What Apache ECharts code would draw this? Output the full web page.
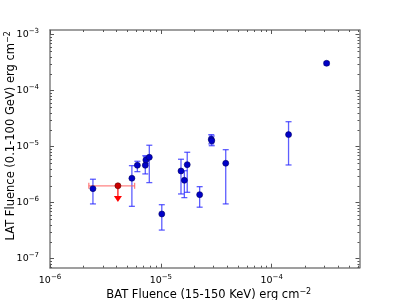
<!DOCTYPE html>
<html>
<head>
<meta charset="utf-8">
<script src="https://cdn.jsdelivr.net/npm/echarts@6/dist/echarts.min.js"></script>
<style>html,body{margin:0;padding:0;background:#fff}#c{width:400px;height:300px}</style>
</head>
<body>
<div id="c"></div>
<script>
// ---- data ----
const batFluence = [2.44e-6, 5.48e-6, 6.14e-6, 7.24e-6, 7.33e-6, 7.87e-6, 1.02e-5, 1.52e-5, 1.63e-5, 1.73e-5, 2.24e-5, 2.85e-5, 2.88e-5, 3.85e-5, 1.42e-4, 3.13e-4];
const latFluence = [1.78e-6, 2.73e-6, 4.65e-6, 4.65e-6, 5.78e-6, 6.47e-6, 6.28e-7, 3.68e-6, 2.51e-6, 4.77e-6, 1.39e-6, 1.36e-5, 1.27e-5, 5.05e-6, 1.64e-5, 3.08e-4];
const latErrLow  = [9.5e-7, 8.6e-7, 3.58e-6, 3.26e-6, 5.0e-6, 2.28e-6, 3.24e-7, 1.43e-6, 1.23e-6, 1.53e-6, 8.3e-7, 1.12e-5, 1.04e-5, 9.5e-7, 4.71e-6, 2.88e-4];
const latErrHigh = [2.62e-6, 4.58e-6, 5.48e-6, 6.9e-6, 6.6e-6, 1.06e-5, 9.2e-7, 5.96e-6, 3.72e-6, 7.94e-6, 1.93e-6, 1.64e-5, 1.55e-5, 8.83e-6, 2.79e-5, 3.25e-4];
// upper limit point
const ulBat = [4.1e-6];
const ulLat = [2.0e-6];
const ulBatLow = [2.24e-6];
const ulBatHigh = [5.8e-6];
const ulArrowTip = [1.03e-6];
// ticks
const xMajorTicks = [1e-6, 1e-5, 1e-4];
const yMajorTicks = [1e-7, 1e-6, 1e-5, 1e-4, 1e-3];
const xMin = 1e-6, xMax = 6.2e-4, yMin = 6.9e-8, yMax = 1.21e-3;

function minors(lo, hi) {
  const out = [];
  for (let e = -8; e <= -3; e++) {
    for (let m = 2; m <= 9; m++) {
      const v = m * Math.pow(10, e);
      if (v > lo && v < hi) out.push(v);
    }
  }
  return out;
}
const xMinorTicks = minors(xMin, xMax);
const yMinorTicks = minors(yMin, yMax);

const FONT = 'DejaVu Sans';
const axisColor = '#808080';
const richLbl = {
  b: {fontFamily: FONT, fontSize: 9.5, color: '#000'},
  s: {fontFamily: FONT, fontSize: 7, color: '#000', padding: [0, 0, 6, 0]}
};
function powLabel(v) {
  const e = Math.round(Math.log10(v));
  return '{b|10}{s|\u2212' + Math.abs(e) + '}';
}

function axisDef(pos, major, ticks, min, max) {
  return {
    type: 'log', logBase: 10, min: min, max: max, position: pos,
    splitLine: {show: false},
    minorTick: {show: false},
    axisLine: {show: major, lineStyle: {color: axisColor, width: 1.5}},
    axisTick: {show: true, inside: true, length: major ? 4 : 2, customValues: ticks,
               lineStyle: {color: '#555', width: 1}},
    axisLabel: {show: false}
  };
}

const xAxes = [
  axisDef('bottom', true, xMajorTicks, xMin, xMax),
  axisDef('bottom', false, xMinorTicks, xMin, xMax),
  axisDef('top', true, xMajorTicks, xMin, xMax),
  axisDef('top', false, xMinorTicks, xMin, xMax)
];
xAxes[0].axisLabel = {show: true, customValues: xMajorTicks, formatter: powLabel, rich: richLbl, margin: 6};
xAxes[0].name = 'BAT Fluence (15-150 KeV) erg cm{s|\u22122}';
xAxes[0].nameLocation = 'middle';
xAxes[0].nameGap = 20;
xAxes[0].nameMoveOverlap = false;
xAxes[0].nameTextStyle = {fontFamily: FONT, fontSize: 11.5, color: '#000', padding: [0, 0, 0, 8],
  rich: {s: {fontFamily: FONT, fontSize: 8, color: '#000', padding: [0, 0, 7, 0]}}};

const yAxes = [
  axisDef('left', true, yMajorTicks, yMin, yMax),
  axisDef('left', false, yMinorTicks, yMin, yMax),
  axisDef('right', true, yMajorTicks, yMin, yMax),
  axisDef('right', false, yMinorTicks, yMin, yMax)
];
yAxes[0].axisLabel = {show: true, customValues: yMajorTicks, formatter: powLabel, rich: richLbl, margin: 11};
yAxes[0].name = 'LAT Fluence (0.1-100 GeV) erg cm{s|\u22122}';
yAxes[0].nameLocation = 'middle';
yAxes[0].nameGap = 31;
yAxes[0].nameMoveOverlap = false;
yAxes[0].nameTextStyle = {fontFamily: FONT, fontSize: 11.5, color: '#000', padding: [0, 0, 0, 26],
  rich: {s: {fontFamily: FONT, fontSize: 8, color: '#000', padding: [0, 0, 7, 0]}}};

const yErrData = batFluence.map((x, i) => [x, latErrLow[i], latErrHigh[i]]);
const pointData = batFluence.map((x, i) => [x, latFluence[i]]);
const ulXErrData = ulBat.map((x, i) => [ulBatLow[i], ulBatHigh[i], ulLat[i]]);
const ulArrowData = ulBat.map((x, i) => [x, ulLat[i], ulArrowTip[i]]);

function renderYErr(params, api) {
  const x = api.value(0);
  const p1 = api.coord([x, api.value(1)]);
  const p2 = api.coord([x, api.value(2)]);
  const cw = 3;
  const st = {stroke: 'rgba(40,40,255,0.75)', lineWidth: 1.3};
  return {type: 'group', children: [
    {type: 'line', shape: {x1: p1[0], y1: p1[1], x2: p2[0], y2: p2[1]}, style: st},
    {type: 'line', shape: {x1: p1[0] - cw, y1: p1[1], x2: p1[0] + cw, y2: p1[1]}, style: st},
    {type: 'line', shape: {x1: p2[0] - cw, y1: p2[1], x2: p2[0] + cw, y2: p2[1]}, style: st}
  ]};
}
function renderXErr(params, api) {
  const y = api.value(2);
  const p1 = api.coord([api.value(0), y]);
  const p2 = api.coord([api.value(1), y]);
  const ch = 3;
  const st = {stroke: 'rgba(255,90,90,0.75)', lineWidth: 1.3};
  return {type: 'group', children: [
    {type: 'line', shape: {x1: p1[0], y1: p1[1], x2: p2[0], y2: p2[1]}, style: st},
    {type: 'line', shape: {x1: p1[0], y1: p1[1] - ch, x2: p1[0], y2: p1[1] + ch}, style: st},
    {type: 'line', shape: {x1: p2[0], y1: p2[1] - ch, x2: p2[0], y2: p2[1] + ch}, style: st}
  ]};
}
function renderArrow(params, api) {
  const x = api.value(0);
  const p1 = api.coord([x, api.value(1)]);
  const p2 = api.coord([x, api.value(2)]);
  const w = 4, h = 6;
  return {type: 'group', children: [
    {type: 'line', shape: {x1: p1[0], y1: p1[1], x2: p2[0], y2: p2[1] - h}, style: {stroke: '#ff0000', lineWidth: 1.2}},
    {type: 'polygon', shape: {points: [[p2[0] - w, p2[1] - h], [p2[0] + w, p2[1] - h], [p2[0], p2[1]]]}, style: {fill: '#ff0000'}}
  ]};
}

const option = {
  animation: false,
  backgroundColor: '#fff',
  grid: {left: 50, right: 40.5, top: 30, bottom: 32.3, containLabel: false, outerBoundsMode: 'none'},
  xAxis: xAxes,
  yAxis: yAxes,
  series: [
    {type: 'custom', renderItem: renderYErr, data: yErrData, encode: {x: 0, y: [1, 2]}, z: 2, silent: true},
    {type: 'custom', renderItem: renderXErr, data: ulXErrData, encode: {x: [0, 1], y: 2}, z: 2, silent: true},
    {type: 'custom', renderItem: renderArrow, data: ulArrowData, encode: {x: 0, y: [1, 2]}, z: 3, silent: true},
    {type: 'scatter', data: pointData, symbolSize: 6, z: 4,
     itemStyle: {color: '#0000c8', borderColor: '#000060', borderWidth: 0.6, opacity: 1}},
    {type: 'scatter', data: ulBat.map((x, i) => [x, ulLat[i]]), symbolSize: 6, z: 4,
     itemStyle: {color: '#cc0000', borderColor: '#600000', borderWidth: 0.6, opacity: 1}}
  ]
};
const chart = echarts.init(document.getElementById('c'), null, {renderer: 'canvas'});
chart.setOption(option);
</script>
</body>
</html>
